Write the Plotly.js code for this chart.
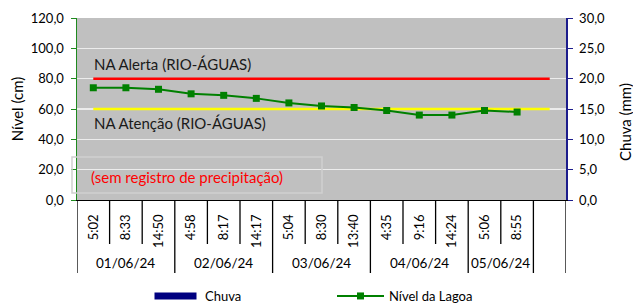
<!DOCTYPE html>
<html>
<head>
<meta charset="utf-8">
<script src="https://cdn.plot.ly/plotly-3.0.1.min.js"></script>
<style>
html,body{margin:0;padding:0;background:#fff;}
#chart{width:633px;height:305px;}
</style>
</head>
<body>
<div id="chart"></div>
<script>
var dates = ['01/06/24','01/06/24','01/06/24','02/06/24','02/06/24','02/06/24','03/06/24','03/06/24','03/06/24','04/06/24','04/06/24','04/06/24','05/06/24','05/06/24',''];
var times = ['5:02','8:33','14:50','4:58','8:17','14:17','5:04','8:30','13:40','4:35','9:16','14:24','5:06','8:55',' '];
var nivel = [74,74,73,70,69,67,64,62,61,59,56,56,59,58,null];
var chuva = [null,null,null,null,null,null,null,null,null,null,null,null,null,null,null];
var alerta = [80,80,80,80,80,80,80,80,80,80,80,80,80,80,80];
var atencao = [60,60,60,60,60,60,60,60,60,60,60,60,60,60,60];

var FONT = 'Lato, "Open Sans", sans-serif';
var plotH = 182, plotW = 489;

var traces = [
  {type:'bar', x: times, y: chuva, yaxis:'y2', name:'Chuva', marker:{color:'#000080'}, showlegend:true},
  {type:'scatter', mode:'lines', x: times, y: alerta, line:{color:'#ff0000', width:2.5}, showlegend:false, hoverinfo:'skip'},
  {type:'scatter', mode:'lines', x: times, y: atencao, line:{color:'#ffff00', width:2.5}, showlegend:false, hoverinfo:'skip'},
  {type:'scatter', mode:'lines+markers', x: times, y: nivel, name:'Nível da Lagoa',
   line:{color:'#008000', width:2}, marker:{symbol:'square', size:7, color:'#008000'}}
];

var shapes = [], annotations = [];
var py = function(px){ return px / plotH; };
for (var i = 0; i <= times.length; i++) {
  var isGroup = (i === 0 || i === times.length || dates[i] !== dates[i-1]);
  shapes.push({type:'line', xref:'x', yref:'paper', x0:i-0.5, x1:i-0.5, y0:0, y1:-py(isGroup?73:44),
    line:{color:'#000', width:1.3}});
}
var start = 0;
for (var j = 1; j <= dates.length; j++) {
  if (j === dates.length || dates[j] !== dates[start]) {
    if (dates[start]) {
      annotations.push({xref:'x', yref:'paper', x:(start + j - 1)/2, y:-py(63), text:dates[start],
        showarrow:false, font:{family:FONT, size:13.5, color:'#000'}, xanchor:'center', yanchor:'middle'});
    }
    start = j;
  }
}
annotations.push({xref:'paper', yref:'paper', x:(92-77)/plotW, y:(200-64)/plotH, xanchor:'left', yanchor:'middle',
  text:'NA Alerta (RIO-ÁGUAS)', showarrow:false, font:{family:FONT, size:15, color:'#1a1a1a'}});
annotations.push({xref:'paper', yref:'paper', x:(92-77)/plotW, y:(200-123)/plotH, xanchor:'left', yanchor:'middle',
  text:'NA Atenção (RIO-ÁGUAS)', showarrow:false, font:{family:FONT, size:15, color:'#1a1a1a'}});
annotations.push({xref:'paper', yref:'paper', x:(89-77)/plotW, y:(200-177)/plotH, xanchor:'left', yanchor:'middle',
  text:'(sem registro de precipitação)', showarrow:false, font:{family:FONT, size:15, color:'#ff0000'}});
// right axis title (sits a little below the axis middle in the original)
annotations.push({xref:'paper', yref:'paper', x:(625-77)/plotW, y:(200-122)/plotH, xanchor:'center', yanchor:'middle',
  text:'Chuva (mm)', textangle:-90, showarrow:false, font:{family:FONT, size:15, color:'#000'}});
shapes.push({type:'rect', xref:'paper', yref:'paper', x0:(72-77)/plotW, x1:(322-77)/plotW, y0:(200-193)/plotH, y1:(200-157)/plotH,
  line:{color:'#d0d0d0', width:1.5}, fillcolor:'rgba(0,0,0,0)'});

var layout = {
  width:633, height:305,
  margin:{l:77, r:67, t:18, b:105, pad:0},
  paper_bgcolor:'#ffffff', plot_bgcolor:'#c0c0c0',
  separators:',.',
  font:{family:FONT, size:13, color:'#000'},
  showlegend:true,
  legend:{orientation:'h', xref:'paper', x:(148-77)/plotW, xanchor:'left', yref:'container', y:(305-296)/305, yanchor:'middle',
    font:{family:FONT, size:13, color:'#000'}, itemwidth:47, entrywidth:122, entrywidthmode:'pixels', bgcolor:'rgba(0,0,0,0)'},
  xaxis:{type:'category', categoryorder:'array', categoryarray:times, range:[-0.5, times.length-0.5],
    tickangle:-90, ticks:'', showgrid:false, showline:true, linecolor:'#000', linewidth:1.3,
    ticklabelstandoff:8, tickfont:{family:FONT, size:13, color:'#000'}, fixedrange:true},
  yaxis:{range:[0,120], dtick:20, tickformat:'.1f', showgrid:true, gridcolor:'#ececec', gridwidth:1.3,
    showline:true, linecolor:'#1f8a1f', linewidth:1.5, ticks:'outside', ticklen:5, tickcolor:'#1f8a1f',
    ticklabelstandoff:4, zeroline:false, tickfont:{family:FONT, size:13, color:'#000'},
    title:{text:'Nível (cm)', font:{family:FONT, size:15, color:'#000'}, standoff:3}},
  yaxis2:{range:[0,30], dtick:5, tickformat:'.1f', overlaying:'y', side:'right', showgrid:false,
    showline:true, linecolor:'#1c1c8c', linewidth:1.5, ticks:'outside', ticklen:5, tickcolor:'#1c1c8c',
    ticklabelstandoff:4, zeroline:false, tickfont:{family:FONT, size:13, color:'#000'}},
  shapes:shapes, annotations:annotations
};

function widenBarSwatch(gd){
  var paths = gd.querySelectorAll('.legend path.legendbar, .legend .legendpoints path');
  paths.forEach(function(p){
    var g = p.closest('.traces');
    if (g && g.textContent.indexOf('Chuva') !== -1) {
      p.setAttribute('d', 'M-22,3.5H20V-3.5H-22Z');
    }
  });
}
Plotly.newPlot('chart', traces, layout, {displayModeBar:false, staticPlot:true}).then(function(gd){
  widenBarSwatch(gd);
  gd.on('plotly_afterplot', function(){ widenBarSwatch(gd); });
  setTimeout(function(){ widenBarSwatch(gd); }, 50);
});
</script>
</body>
</html>
